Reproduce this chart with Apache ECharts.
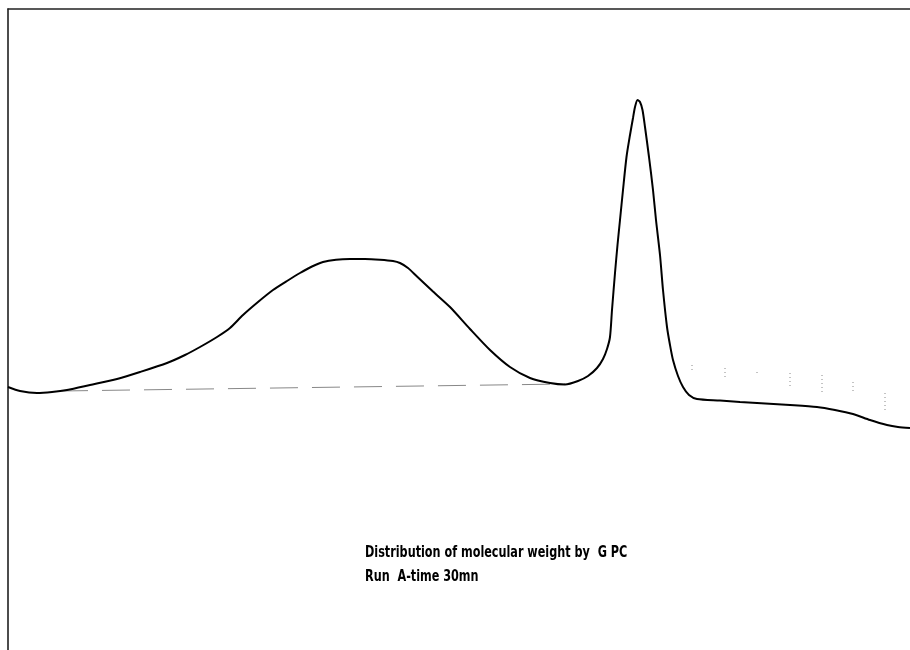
<!DOCTYPE html>
<html><head><meta charset="utf-8">
<script src="https://cdn.jsdelivr.net/npm/echarts@6/dist/echarts.min.js"></script>
<style>html,body{margin:0;padding:0;background:#fff}#c{width:910px;height:650px}</style>
</head><body><div id="c"></div>
<script>
// Elution position (arbitrary units) and detector response (arbitrary units)
const elution = [0,12,29,44,59,82,109,132,159,177,192,209,222,235,250,265,279,292,304,315,328,342,357,372,385,392,400,409,425,442,462,482,502,522,542,557,570,580,589,595,599,602,604,607,609.5,612,615,618.5,622,625,627,629.5,632,634.5,637,641,645,648,652,655,659,662,665,670,675,681,689,712,732,749,782,809,827,845,862,879,890,902];
const response = [263,259,257,258,260,265,271,278,287,295,303,313,322,335,348,360,369,377,383.5,388,390.3,391,391,390.3,389,387,382,373.5,358.5,343,321,300,283,272,267,265.5,269,274,282,291,301,313,340,377,405,430,460,493,515,532,543,550,548,540,523,493,460,430,395,360,323,305,290,274,263,255,251,249.5,248,247,245,243,240,236,230,225,223,222];
const baselineX = [52, 557];
const baselineY = [259, 266];
const guideX = [684, 717, 749, 782, 814, 845, 877];
const guideTop = [285, 282, 278, 277, 275, 268, 257];
const guideBottom = [278, 272, 275, 261, 258, 257, 237];
const title1 = "Distribution of molecular weight by  G PC";
const title2 = "Run  A-time 30mn";

const curve = elution.map((x, i) => [x, response[i]]);
const baseline = baselineX.map((x, i) => [x, baselineY[i]]);
const guides = guideX.map((x, i) => [[x, guideTop[i]], [x, guideBottom[i]]]);
const textFont = 'bold 16px "DejaVu Sans Condensed", "Liberation Sans Narrow", sans-serif';

const chart = echarts.init(document.getElementById('c'), null, {renderer: 'canvas'});
chart.setOption({
  animation: false,
  backgroundColor: '#fff',
  grid: {left: 8, right: 0, top: 9, bottom: 0},
  xAxis: {type: 'value', min: 0, max: 902, position: 'top',
    axisLine: {show: true, onZero: false, lineStyle: {color: '#222', width: 1.5}},
    axisTick: {show: false}, axisLabel: {show: false}, splitLine: {show: false}},
  yAxis: {type: 'value', min: 0, max: 641,
    axisLine: {show: true, lineStyle: {color: '#111', width: 1.5}},
    axisTick: {show: false}, axisLabel: {show: false}, splitLine: {show: false}},
  series: [
    {type: 'line', data: baseline, symbol: 'none', silent: true,
     lineStyle: {color: '#888', width: 1, type: [28, 14]}},
    ...guides.map(g => ({type: 'line', data: g, symbol: 'none', silent: true,
     lineStyle: {color: '#888', width: 1, type: [1, 3]}})),
    {type: 'line', data: curve, symbol: 'none', smooth: 0.25,
     lineStyle: {color: '#000', width: 2}}
  ],
  graphic: [
    {type: 'text', x: 365, y: 545, scaleX: 0.78, style: {text: title1, fill: '#000',
      font: textFont, textBaseline: 'top'}},
    {type: 'text', x: 365, y: 569, scaleX: 0.78, style: {text: title2, fill: '#000',
      font: textFont, textBaseline: 'top'}}
  ]
});
</script></body></html>
